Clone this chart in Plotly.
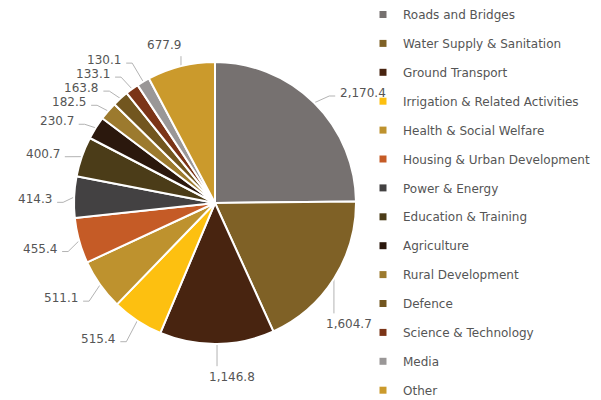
import numpy as np
import plotly.graph_objects as go

categories = ["Roads and Bridges", "Water Supply & Sanitation", "Ground Transport",
              "Irrigation & Related Activities", "Health & Social Welfare",
              "Housing & Urban Development", "Power & Energy", "Education & Training",
              "Agriculture", "Rural Development", "Defence", "Science & Technology",
              "Media", "Other"]
values = [2170.4, 1604.7, 1146.8, 515.4, 511.1, 455.4, 414.3, 400.7,
          230.7, 182.5, 163.8, 133.1, 130.1, 677.9]
colors = ["#767170", "#7f6126", "#482410", "#fdc010", "#be922e", "#c55b26",
          "#434142", "#4b3c18", "#2b180d", "#9c7a2e", "#72561f", "#7b3417",
          "#9a9797", "#cb9a2c"]

W, H = 601, 400
CX, CY, R = 215, 203, 141
LY = 18       # vertical drift of side labels (scaled by cos of mid angle)
LA = 6        # constant downward offset of side-label stubs
ELB_L, ELB_R = 11, 15   # horizontal distance edge -> elbow
STUB = 6      # horizontal stub length
TGAP = 3      # stub -> text gap
TUP = 3       # text centre sits this far above its stub
GAP = 14      # min vertical spacing of stacked labels
LEG_LEFT = 388
FONT = "DejaVu Sans"
TXT = "#555555"
LINE = "#b3b3b3"

vals = np.array(values, dtype=float)
cum = np.cumsum(vals)
mid = (cum - vals / 2) / vals.sum() * 2 * np.pi
labels_txt = [f"{v:,.1f}" for v in values]


def text_w(s):
    return sum(7.6 if ch.isdigit() else 3.8 for ch in s)


items = []
for i, th in enumerate(mid):
    s, c = np.sin(th), np.cos(th)
    ex, ey = CX + R * s, CY - R * c
    sign = 1 if s > 0 else -1
    elb = ELB_R if s > 0 else ELB_L
    mode = "side"
    if abs(s) < 0.3:
        mode = "vert"
    elif s > 0 and ex + elb + STUB + TGAP + text_w(labels_txt[i]) > LEG_LEFT:
        mode = "vert"
    items.append(dict(i=i, s=s, c=c, ex=ex, ey=ey, sign=sign, elb=elb,
                      y=ey + LA - LY * c, mode=mode))

# collision avoidance on the left side (stack upward from the bottom)
left = sorted([it for it in items if it["mode"] == "side" and it["s"] < 0],
              key=lambda d: -d["y"])
for k in range(1, len(left)):
    if left[k]["y"] > left[k - 1]["y"] - GAP:
        left[k]["y"] = left[k - 1]["y"] - GAP

lx, ly = [], []
annotations = []
for it in items:
    t = labels_txt[it["i"]]
    ex, ey, sg = it["ex"], it["ey"], it["sign"]
    if it["mode"] == "side":
        bx = ex + it["elb"] * sg
        lx += [ex, bx, bx + STUB * sg, None]
        ly += [ey, it["y"], it["y"], None]
        annotations.append(dict(x=bx + (STUB + TGAP) * sg, y=it["y"] - TUP, text=t,
                                xanchor="left" if sg > 0 else "right",
                                yanchor="middle"))
    else:
        up = it["c"] > 0
        lv = 10 if up else 22 + 15 * abs(it["s"])
        y2 = ey - lv if up else ey + lv
        lx += [ex, ex, None]
        ly += [ey, y2, None]
        annotations.append(dict(
            x=ex - 10 if sg > 0 else ex + 2, y=y2 + (-2 if up else 2), text=t,
            xanchor="left" if sg > 0 else "right",
            yanchor="bottom" if up else "top"))

for a in annotations:
    a.update(xref="x", yref="y", showarrow=False,
             font=dict(family=FONT, size=12, color=TXT))

fig = go.Figure()
fig.add_trace(go.Pie(
    values=values, labels=categories, sort=False, direction="clockwise",
    rotation=0, textinfo="none", showlegend=False, hoverinfo="label+value",
    marker=dict(colors=colors, line=dict(color="white", width=2)),
    domain=dict(x=[(CX - R) / W, (CX + R) / W],
                y=[(H - CY - R) / H, (H - CY + R) / H]),
))
fig.add_trace(go.Scatter(x=lx, y=ly, mode="lines", showlegend=False,
                         line=dict(color=LINE, width=1), hoverinfo="skip"))
for name, col in zip(categories, colors):
    fig.add_trace(go.Scatter(x=[None], y=[None], mode="markers", name=name,
                             legendgroup=name,
                             marker=dict(symbol="square", size=7, color=col)))

fig.update_layout(
    width=W, height=H, margin=dict(l=0, r=0, t=0, b=0),
    paper_bgcolor="white", plot_bgcolor="white",
    xaxis=dict(range=[0, W], visible=False, fixedrange=True),
    yaxis=dict(range=[H, 0], visible=False, fixedrange=True),
    annotations=annotations,
    legend=dict(x=363 / W, y=1 - 5 / H, xanchor="left", yanchor="top",
                traceorder="grouped", tracegroupgap=9.9, maxheight=480,
                font=dict(family=FONT, size=12, color=TXT),
                bgcolor="rgba(0,0,0,0)"),
    showlegend=True,
)
fig.write_html("out.html", config={"displayModeBar": False},
               post_script="document.body.style.margin='0';"
                           "document.body.style.overflow='hidden';"
                           "document.documentElement.style.overflow='hidden';")
